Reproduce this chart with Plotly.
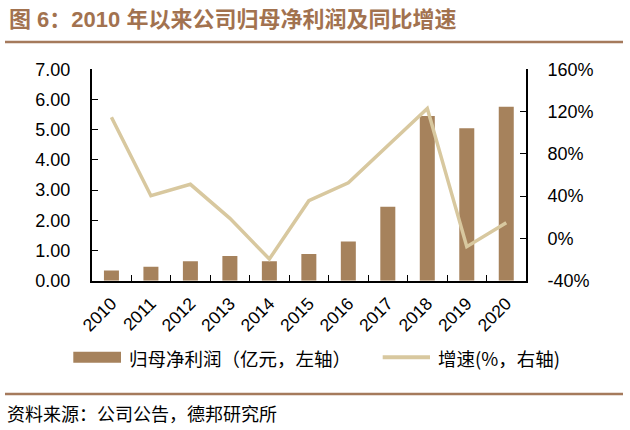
import plotly.graph_objects as go

# ---- data ----
years = ["2010", "2011", "2012", "2013", "2014", "2015", "2016", "2017", "2018", "2019", "2020"]
net_profit = [0.34, 0.46, 0.64, 0.82, 0.64, 0.88, 1.30, 2.45, 5.45, 5.05, 5.76]   # 亿元
growth = [114.6, 40.4, 51.2, 19.0, -19.5, 35.7, 52.7, 87.7, 123.0, -7.8, 14.9]     # %

left_ticks = [0, 1, 2, 3, 4, 5, 6, 7]
right_ticks = [-40, 0, 40, 80, 120, 160]
left_labels = [f"{v:.2f}" for v in left_ticks]
right_labels = [f"{v}%" for v in right_ticks]

title_text = "图 6：2010 年以来公司归母净利润及同比增速"
bar_name = "归母净利润（亿元，左轴）"
line_name = "增速(%，右轴)"
source_text = "资料来源：公司公告，德邦研究所"

W, H = 630, 430
BAR_C = "#a6825c"
LINE_C = "#d8c89f"
BROWN = "#a2724f"
RULE_C = "#a57a5c"
LATIN = "Liberation Sans, Arial, sans-serif"
CJK = "Noto Sans CJK SC, sans-serif"


def px(x):
    return x / W


def py(y):
    return 1 - y / H


fig = go.Figure()
fig.add_trace(go.Bar(x=years, y=net_profit, name=bar_name, marker_color=BAR_C,
                     marker_line_width=0, width=0.38, yaxis="y", showlegend=False))
fig.add_trace(go.Scatter(x=years, y=growth, name=line_name, mode="lines",
                         line=dict(color=LINE_C, width=3.5), yaxis="y2", showlegend=False))

axis_common = dict(showline=True, linecolor="black", linewidth=1.6, ticks="inside",
                   tickcolor="black", tickwidth=1.4, showgrid=False, zeroline=False,
                   automargin=False)

fig.update_layout(
    width=W, height=H,
    margin=dict(l=0, r=0, t=0, b=0),
    paper_bgcolor="white", plot_bgcolor="white",
    xaxis=dict(domain=[px(91.7), px(526)], type="category", range=[-0.5, 10.5],
               tickson="boundaries", ticklen=6, tickangle=-45,
               tickfont=dict(family=LATIN, size=17.5, color="black"),
               ticklabelstandoff=4, anchor="y", **axis_common),
    yaxis=dict(domain=[py(280.7), py(69.3)], range=[0, 7], tickmode="array",
               tickvals=left_ticks, ticktext=left_labels,
               ticklen=6, tickfont=dict(family=LATIN, size=18, color="black"),
               ticklabelstandoff=16, anchor="x", **axis_common),
    yaxis2=dict(overlaying="y", side="right", anchor="x", range=[-40, 160], tickmode="array",
                tickvals=right_ticks, ticktext=right_labels,
                ticklen=6, tickfont=dict(family=LATIN, size=18, color="black"),
                ticklabelstandoff=16, **axis_common),
)

shapes = [
    # title rule & source rule
    dict(type="line", xref="paper", yref="paper", x0=px(5), x1=px(623), y0=py(42), y1=py(42),
         line=dict(color=RULE_C, width=2.5)),
    dict(type="line", xref="paper", yref="paper", x0=px(5), x1=px(623), y0=py(394), y1=py(394),
         line=dict(color=RULE_C, width=2.5)),
    # legend markers
    dict(type="rect", xref="paper", yref="paper", x0=px(73.3), x1=px(121), y0=py(362.7), y1=py(351.7),
         fillcolor=BAR_C, line=dict(width=0)),
    dict(type="line", xref="paper", yref="paper", x0=px(382.7), x1=px(430), y0=py(357.3), y1=py(357.3),
         line=dict(color=LINE_C, width=4)),
]

annotations = [
    dict(text="<b>" + title_text + "</b>", xref="paper", yref="paper", x=px(7), y=py(19),
         xanchor="left", yanchor="middle", showarrow=False,
         font=dict(family="Liberation Sans, " + CJK, size=22, color=BROWN)),
    dict(text=bar_name, xref="paper", yref="paper", x=px(127), y=py(357.5),
         xanchor="left", yanchor="middle", showarrow=False,
         font=dict(family=CJK, size=18.5, color="black")),
    dict(text=line_name, xref="paper", yref="paper", x=px(436), y=py(357.5),
         xanchor="left", yanchor="middle", showarrow=False,
         font=dict(family=CJK, size=18.5, color="black")),
    dict(text=source_text, xref="paper", yref="paper", x=px(5), y=py(413),
         xanchor="left", yanchor="middle", showarrow=False,
         font=dict(family=CJK, size=18, color="black")),
]

fig.update_layout(shapes=shapes, annotations=annotations)
fig.write_html("out.html", config={"displayModeBar": False},
               post_script="document.body.style.margin='0';document.body.style.overflow='hidden';")
